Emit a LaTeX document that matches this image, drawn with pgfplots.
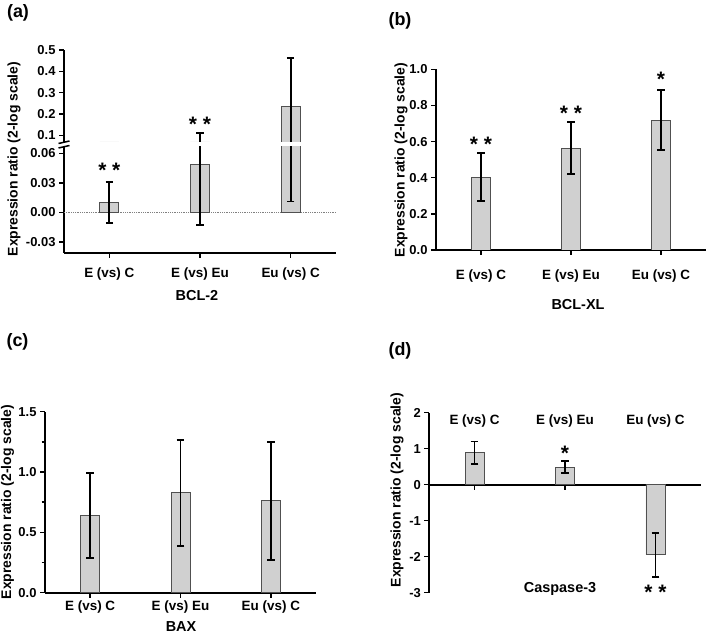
\documentclass[border=0pt]{standalone}
\usepackage{fontspec}
\setmainfont{Liberation Sans}
\usepackage{pgfplots}
\pgfplotsset{compat=1.18}
\definecolor{barfill}{HTML}{D0D0D0}
\definecolor{baredge}{HTML}{505050}
\newcommand{\tk}{\fontsize{13}{15}\selectfont\bfseries}
\newcommand{\cat}{\fontsize{13.5}{15}\selectfont\bfseries}
\newcommand{\lb}{\fontsize{14.5}{16}\selectfont\bfseries}
\newcommand{\yl}{\fontsize{14}{16}\selectfont\bfseries}
\newcommand{\st}{\fontsize{21}{22}\selectfont\bfseries}
\newcommand{\pl}{\fontsize{18}{20}\selectfont\bfseries}
\pgfplotsset{
  panel/.style={
    scale only axis, ybar, bar width=0.21, xmin=0.5, xmax=3.5, xtick={1,2,3},
    axis x line*=bottom, axis y line*=left, scaled y ticks=false,
    axis line style={line width=1.8bp},
    major tick length=5bp, minor tick length=3.5bp, tick align=outside,
    tick style={line width=1.5bp, black},
    yticklabel style={font=\tk}, xticklabel style={font=\cat},
    xticklabels={E (vs) C, E (vs) Eu, Eu (vs) C},
    /pgf/number format/assume math mode=true,
  },
  bars/.style={fill=barfill, draw=baredge, line width=0.9bp,
    error bars/y dir=both, error bars/y explicit,
    error bars/error bar style={line width=1.9bp, black},
    error bars/error mark options={rotate=90, mark size=3.8bp, line width=1.9bp, black}},
}
\begin{document}
\begin{tikzpicture}
\path[use as bounding box] (0,0) rectangle (709bp,635bp);

% (a) BCL-2, lower part of the broken axis
\begin{axis}[panel, at={(64bp,382.3bp)}, width=272bp, height=105.7bp,
  ymin=-0.0411, ymax=0.0664, ytick={-0.03,0,0.03,0.06},
  yticklabels={-0.03,0.00,0.03,0.06}, xticklabel style={yshift=-7bp}]
\draw[densely dotted, gray, line width=0.8bp] (axis cs:0.5,0) -- (axis cs:3.5,0);
\addplot[bars] coordinates {(1,0.0098) +- (0,0.021) (2,0.049) +- (0,0.062) (3,0.236) +- (0,0.225)};
\node[font=\st] at (axis cs:1,0.043) {* *};
\end{axis}
% (a) upper part
\begin{axis}[panel, at={(64bp,493bp)}, width=272bp, height=92bp,
  ymin=0.0686, ymax=0.5, ytick={0.1,0.2,0.3,0.4,0.5},
  yticklabels={0.1,0.2,0.3,0.4,0.5}, axis x line=none]
\addplot[bars] coordinates {(1,0.0098) +- (0,0.021) (2,0.049) +- (0,0.062) (3,0.236) +- (0,0.225)};
\node[font=\st] at (axis cs:2,0.152) {* *};
\end{axis}
\draw[line width=1.5bp] (58.5bp,491.5bp) -- (69.5bp,494bp);
\draw[line width=1.5bp] (58.5bp,487bp) -- (69.5bp,489.5bp);
\node[font=\yl, rotate=90] at (14bp,476bp) {Expression ratio (2-log scale)};
\node[font=\lb] at (197bp,339bp) {BCL-2};
\node[font=\pl] at (18bp,622bp) {(a)};

% (b) BCL-XL
\begin{axis}[panel, at={(436bp,385bp)}, width=270bp, height=180.7bp,
  ymin=0, ymax=1, ytick={0,0.2,0.4,0.6,0.8,1},
  yticklabels={0.0,0.2,0.4,0.6,0.8,1.0}, xticklabel style={yshift=-11bp}]
\addplot[bars] coordinates {(1,0.402) +- (0,0.133) (2,0.563) +- (0,0.144) (3,0.719) +- (0,0.166)};
\node[font=\st] at (axis cs:1,0.585) {* *};
\node[font=\st] at (axis cs:2,0.758) {* *};
\node[font=\st] at (axis cs:3,0.943) {*};
\end{axis}
\node[font=\yl, rotate=90] at (401bp,475bp) {Expression ratio (2-log scale)};
\node[font=\lb] at (578bp,330bp) {BCL-XL};
\node[font=\pl] at (400bp,614bp) {(b)};

% (c) BAX
\begin{axis}[panel, at={(45bp,42.3bp)}, width=271bp, height=181bp,
  ymin=0, ymax=1.5, ytick={0,0.5,1,1.5}, minor ytick={0.25,0.75,1.25},
  yticklabels={0.0,0.5,1.0,1.5}]
\addplot[bars] coordinates {(1,0.638) +- (0,0.352) (2,0.829) +- (0,0.44) (3,0.762) +- (0,0.49)};
\end{axis}
\node[font=\yl, rotate=90] at (7.5bp,133bp) {Expression ratio (2-log scale)};
\node[font=\lb] at (181bp,8bp) {BAX};
\node[font=\pl] at (17.5bp,293bp) {(c)};

% (d) Caspase-3
\begin{axis}[panel, at={(429.3bp,42.3bp)}, width=271.4bp, height=180bp,
  axis x line*=middle, ymin=-3, ymax=2, ytick={-3,-2,-1,0,1,2},
  yticklabels={-3,-2,-1,0,1,2}, xticklabel style={anchor=center, yshift=69bp}]
\addplot[bars] coordinates {(1,0.89) +- (0,0.31) (2,0.487) +- (0,0.16) (3,-1.947) +- (0,0.614)};
\node[font=\st] at (axis cs:2,0.88) {*};
\node[font=\st] at (axis cs:3,-2.98) {* *};
\end{axis}
\node[font=\yl, rotate=90] at (397bp,145bp) {Expression ratio (2-log scale)};
\node[font=\lb] at (560bp,46bp) {Caspase-3};
\node[font=\pl] at (400bp,284bp) {(d)};
\end{tikzpicture}
\end{document}
